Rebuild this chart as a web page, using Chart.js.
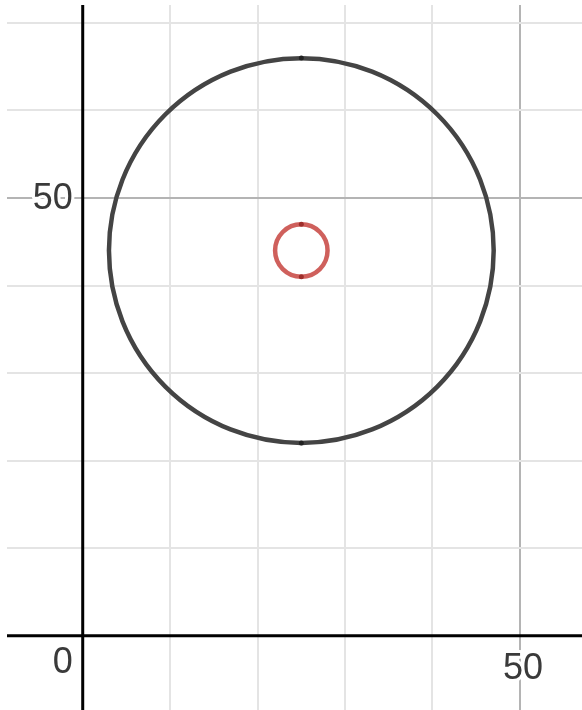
<!DOCTYPE html>
<html>
<head>
<meta charset="utf-8">
<script src="https://cdn.jsdelivr.net/npm/chart.js@4.4.1/dist/chart.umd.min.js"></script>
<style>
  html, body { margin: 0; padding: 0; background: #fff; }
  #wrap { width: 582px; height: 710px; }
</style>
</head>
<body>
<div id="wrap"><canvas id="graph"></canvas></div>
<script>
// grid lines and axis labels
const gridX = [0, 10, 20, 30, 40, 50];
const gridY = [0, 10, 20, 30, 40, 50, 60, 70];
const xLabels = [0, 50];
const yLabels = [50];

// circles: center and radius in graph units
const circleX = [25, 25];
const circleY = [44, 44];
const circleR = [22, 3];

// small marker points on the circles (top / bottom)
const markX = [25, 25, 25, 25];
const markY = [66, 22, 47, 41];

const circleColors = ['#444444', 'rgba(199, 68, 64, 0.85)'];
const markColors = ['#222222', '#222222', '#9e2e2b', '#9e2e2b'];

function unitsToPx(chart, r) {
    const s = chart.scales.x;
    return s.getPixelForValue(r) - s.getPixelForValue(0);
}

// axes lines and number labels like a graphing calculator
const axesPlugin = {
    id: 'axes',
    beforeDatasetsDraw(chart) {
        const ctx = chart.ctx;
        const area = chart.chartArea;
        const x0 = chart.scales.x.getPixelForValue(0);
        const y0 = chart.scales.y.getPixelForValue(0);
        ctx.save();
        ctx.strokeStyle = '#000';
        ctx.lineWidth = 3;
        ctx.beginPath();
        ctx.moveTo(area.left, y0);
        ctx.lineTo(area.right, y0);
        ctx.moveTo(x0, area.top);
        ctx.lineTo(x0, area.bottom);
        ctx.stroke();

        ctx.font = '36px Arial, "Liberation Sans", sans-serif';
        ctx.lineJoin = 'round';
        ctx.textBaseline = 'middle';
        const label = (txt, x, y, align) => {
            ctx.textAlign = align;
            ctx.strokeStyle = '#fff';
            ctx.lineWidth = 6;
            ctx.strokeText(txt, x, y);
            ctx.fillStyle = '#3a3a3a';
            ctx.fillText(txt, x, y);
        };
        xLabels.forEach(v => {
            if (v === 0) {
                label('0', x0 - 10, y0 + 27, 'right');
            } else {
                label(String(v), chart.scales.x.getPixelForValue(v) + 3, y0 + 33, 'center');
            }
        });
        yLabels.forEach(v => {
            label(String(v), x0 - 10, chart.scales.y.getPixelForValue(v) + 1, 'right');
        });
        ctx.restore();
    }
};

const gridColor = ctx => (ctx.tick && ctx.tick.value % 50 === 0) ? '#b4b4b4' : '#e4e4e4';

new Chart(document.getElementById('graph'), {
    type: 'scatter',
    data: {
        datasets: [
            {
                data: markX.map((x, i) => ({ x: x, y: markY[i] })),
                pointRadius: 2.5,
                pointBackgroundColor: markColors,
                pointBorderWidth: 0
            },
            {
                data: circleX.map((x, i) => ({ x: x, y: circleY[i] })),
                pointRadius: ctx => unitsToPx(ctx.chart, circleR[ctx.dataIndex]),
                pointBackgroundColor: 'rgba(0,0,0,0)',
                pointBorderColor: circleColors,
                pointBorderWidth: 4.5
            }
        ]
    },
    options: {
        responsive: true,
        maintainAspectRatio: false,
        animation: false,
        events: [],
        layout: { autoPadding: false, padding: { left: 7, top: 5, right: 0, bottom: 0 } },
        plugins: {
            legend: { display: false },
            tooltip: { enabled: false }
        },
        scales: {
            x: {
                type: 'linear',
                min: -8.66,
                max: 57.1,
                afterBuildTicks: s => { s.ticks = gridX.map(v => ({ value: v })); },
                ticks: { display: false },
                border: { display: false },
                grid: { color: gridColor, lineWidth: 2, drawTicks: false }
            },
            y: {
                type: 'linear',
                min: -8.49,
                max: 72.05,
                afterBuildTicks: s => { s.ticks = gridY.map(v => ({ value: v })); },
                ticks: { display: false },
                border: { display: false },
                grid: { color: gridColor, lineWidth: 2, drawTicks: false }
            }
        }
    },
    plugins: [axesPlugin]
});
</script>
</body>
</html>
